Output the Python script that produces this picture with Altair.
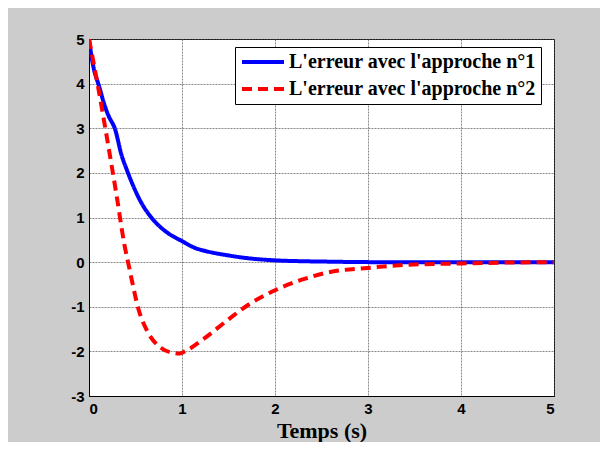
import altair as alt
import pandas as pd

names = ["L'erreur avec l'approche n°1", "L'erreur avec l'approche n°2"]

t1 = [0.0, 0.02, 0.046, 0.11, 0.17, 0.21, 0.28, 0.35, 0.41, 0.49, 0.56, 0.67, 0.81, 1.0, 1.15, 1.25, 1.5, 1.7, 2.0, 2.3, 2.6, 3.0, 4.0, 5.0]
e1 = [5.0, 4.7, 4.39, 3.93, 3.5, 3.28, 2.98, 2.4, 2.05, 1.64, 1.34, 1.0, 0.71, 0.47, 0.31, 0.25, 0.15, 0.09, 0.04, 0.02, 0.01, 0.0, 0.0, 0.0]

t2 = [0.0, 0.1, 0.2, 0.3, 0.38, 0.43, 0.46, 0.53, 0.63, 0.78, 0.92, 0.97, 1.03, 1.24, 1.49, 1.71, 2.0, 2.28, 2.57, 3.0, 3.43, 4.0, 4.5, 5.0]
e2 = [5.0, 3.9, 2.7, 1.45, 0.4, -0.1, -0.4, -1.04, -1.56, -1.93, -2.04, -2.05, -2.0, -1.71, -1.3, -0.96, -0.63, -0.4, -0.23, -0.13, -0.06, -0.03, -0.01, 0.0]

x_ticks = [0, 1, 2, 3, 4, 5]
y_ticks = [-3, -2, -1, 0, 1, 2, 3, 4, 5]

df = pd.concat([
    pd.DataFrame({"t": t1, "e": e1, "serie": names[0]}),
    pd.DataFrame({"t": t2, "e": e2, "serie": names[1]}),
])

leg = alt.Legend(
    orient="none", legendX=146, legendY=8, title=None,
    symbolType="M-1,0L4.25,0", symbolSize=256, symbolStrokeWidth=4,
    labelFont="Liberation Serif", labelFontWeight="bold", labelFontSize=20,
    labelColor="black", labelOffset=29, labelLimit=500,
    strokeColor="black", fillColor="white", padding=5, rowPadding=7,
)

chart = alt.Chart(df).mark_line(strokeWidth=4, interpolate="monotone", clip=True).encode(
    x=alt.X("t:Q", scale=alt.Scale(domain=[0, 5], nice=False),
            axis=alt.Axis(values=x_ticks, title="Temps (s)", labelExpr="'' + datum.value")),
    y=alt.Y("e:Q", scale=alt.Scale(domain=[-3, 5], nice=False),
            axis=alt.Axis(values=y_ticks, title=None, labelExpr="'' + datum.value")),
    color=alt.Color("serie:N", scale=alt.Scale(domain=names, range=["#0000ff", "#ff0000"]), legend=leg),
    strokeDash=alt.StrokeDash("serie:N", scale=alt.Scale(domain=names, range=[[1, 0], [10, 6]]), legend=leg),
).properties(
    width=465, height=357, background="#cccccc",
    padding={"left": 81, "top": 31, "right": 46, "bottom": 46},
    autosize=alt.AutoSizeParams(type="none"),
).configure_view(
    stroke="black", strokeWidth=1, fill="white"
).configure_axis(
    domainColor="black", domainWidth=1, ticks=False,
    grid=True, gridColor="#555555", gridDash=[2, 1], gridWidth=1, gridOpacity=0.7,
    labelFont="Liberation Sans", labelFontWeight="bold", labelFontSize=15, labelColor="black",
    labelPadding=5, titleFont="Liberation Serif", titleFontWeight="bold", titleFontSize=22,
    titleColor="black", titlePadding=4,
)

chart.save("out.html", embed_options={"renderer": "svg", "actions": False})
